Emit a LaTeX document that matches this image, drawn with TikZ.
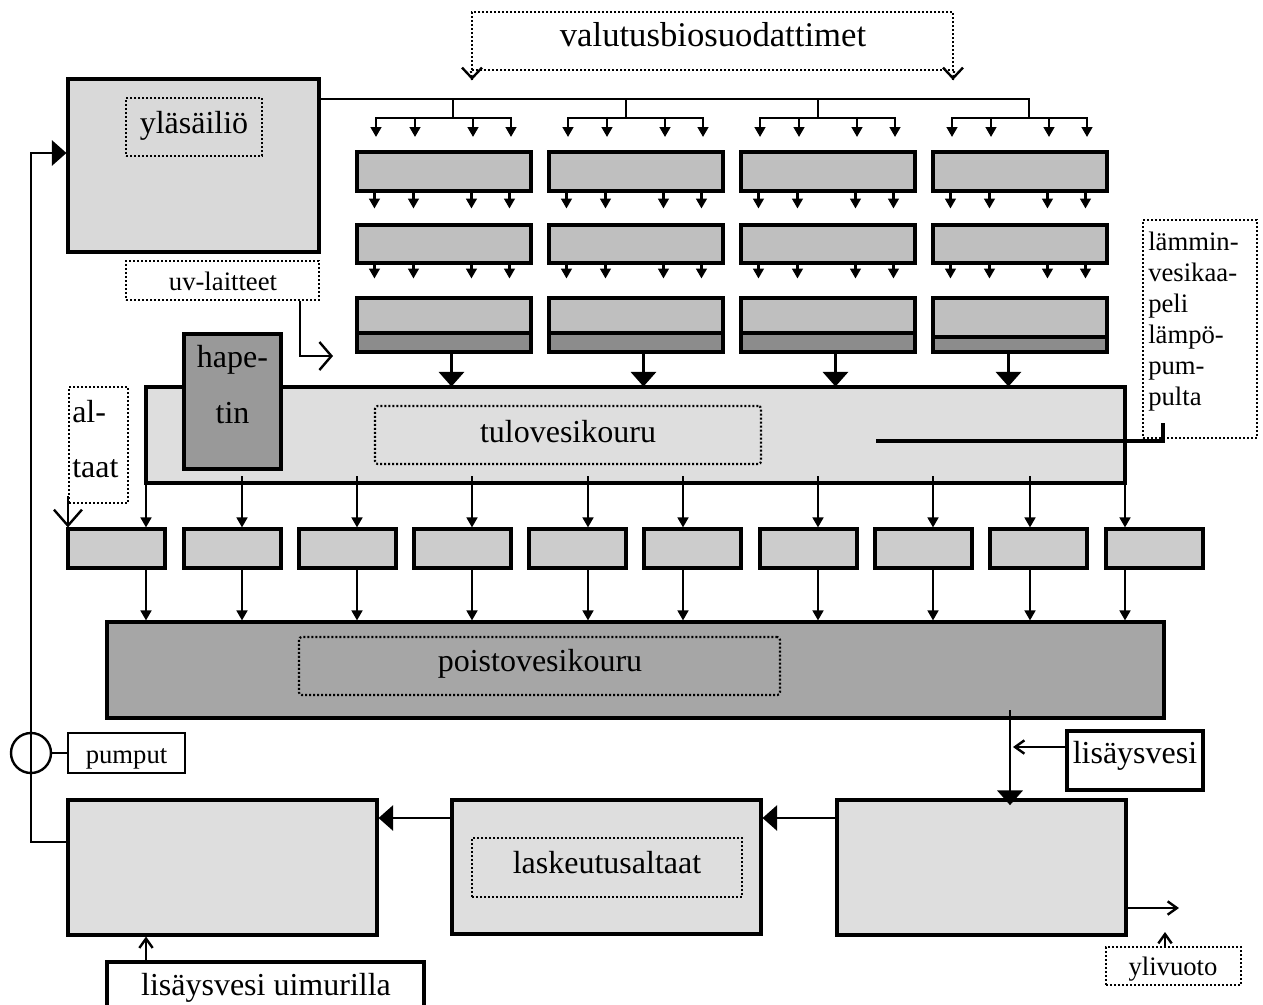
\documentclass[tikz,border=0pt]{standalone}
\usepackage{fontspec}
\setmainfont{Liberation Serif}
\usetikzlibrary{arrows.meta,fit}
\definecolor{gA}{HTML}{D9D9D9}
\definecolor{gB}{HTML}{BFBFBF}
\definecolor{gC}{HTML}{8C8C8C}
\definecolor{gD}{HTML}{DEDEDE}
\definecolor{gE}{HTML}{999999}
\definecolor{gF}{HTML}{CCCCCC}
\definecolor{gG}{HTML}{A6A6A6}
\begin{document}
\begin{tikzpicture}[x=0.75pt,y=-0.75pt,
  box/.style={draw=black,line width=2.3pt,inner sep=0pt},
  dotbox/.style={draw=black,line width=1.6pt,dash pattern=on 1.4pt off 1.6pt,inner sep=0pt},
  ln/.style={draw=black,line width=1.8pt},
  sarr/.style={ln,-{Triangle[width=8pt,length=7.5pt]}},
  barr/.style={ln,-{Triangle[width=19pt,length=11pt]}},
  oarr/.style={ln,-{Straight Barb[width=10pt,length=7pt]}},
  hugeT/.style={font=\fontsize{26}{30}\selectfont,inner sep=0pt},
  bigt/.style={font=\fontsize{24}{28}\selectfont,inner sep=0pt},
  midt/.style={font=\fontsize{20}{23}\selectfont,inner sep=0pt},
]
\useasboundingbox (0,0) rectangle (1263,1004);

% ---------- upper tank ----------
\node[box,fill=gA,fit={(68,79)(319,252)}] (ylas) {};
\node[dotbox,fit={(126,98)(262,156)}] (ylasbox) {};
\node[bigt,anchor=base] (ylastxt) at (194,133) {yläsäiliö};

% ---------- valutusbiosuodattimet label ----------
\node[dotbox,fit={(472,12)(953,70)}] (valut) {};
\node[hugeT,anchor=base] (valuttxt) at (713,46) {valutusbiosuodattimet};
\coordinate (va1) at (472,80);
\coordinate (va2) at (953,80);
\draw[dotbox] (valut.south west) -- (va1);
\draw[dotbox] (valut.south east) -- (va2);
\draw[ln,-{Straight Barb[width=15pt,length=8pt]}] ([yshift=1pt]va1) -- (va1);
\draw[ln,-{Straight Barb[width=15pt,length=8pt]}] ([yshift=1pt]va2) -- (va2);

% ---------- filters ----------
\foreach \c/\x/\d in {1/357/333,2/549/333,3/741/333,4/933/337} {
  \node[box,fill=gB,fit={(\x,152)(\x+174,191)}] (fa\c) {};
  \node[box,fill=gB,fit={(\x,225)(\x+174,263)}] (fb\c) {};
  \node[box,fill=gB,fit={(\x,298)(\x+174,\d)}] (fc\c) {};
  \node[box,fill=gC,fit={(\x,\d)(\x+174,352)}] (fd\c) {};
}

% distribution pipe
\coordinate (d99) at (0,99);
\draw[ln] (ylas.east |- d99) -- (1029,99) -- (1029,118);
\foreach \x/\b in {357/453,549/626,741/818,933/1029} {
  \draw[ln] (\b,99) -- (\b,118);
  \draw[ln,line cap=rect] (\x+19,118) -- (\x+154,118);
  \foreach \o in {19,58,116,154} {
    \draw[sarr] (\x+\o,118) -- (\x+\o,137);
  }
}
\foreach \c in {1,2,3,4} {
  \foreach \o in {19,58,116,154} {
    \draw[sarr] ([xshift=\o*0.75pt]fa\c.south west) -- ++(0,16);
    \draw[sarr] ([xshift=\o*0.75pt]fb\c.south west) -- ++(0,14);
  }
}

% ---------- tulovesikouru ----------
\node[box,fill=gD,fit={(146,387)(1125,483)}] (tulo) {};
\node[dotbox,rounded corners=2pt,fit={(375,406)(761,464)}] (tulobox) {};
\node[bigt,anchor=base] (tulotxt) at (568,442) {tulovesikouru};
\foreach \c/\o in {1/96,2/96,3/96,4/77} {
  \draw[barr] ([xshift=\o*0.75pt]fd\c.south west) -- ++(0,33);
}

% hapetin
\node[box,fill=gE,fit={(184,334)(281,469)}] (hap) {};
\node[bigt,anchor=base] (hap1) at (232.5,367) {hape-};
\node[bigt,anchor=base] (hap2) at (232.5,423) {tin};

% heating cable label
\node[dotbox,fit={(1143,220)(1257,438)}] (lam) {};
\foreach \t/\y/\i in {lämmin-/250/1,vesikaa-/281/2,peli/312/3,lämpö-/343/4,pum-/374/5,pulta/405/6} {
  \node[midt,anchor=base west] (lam\i) at (1148,\y) {\t};
}
\coordinate (cab1) at (876,441);
\coordinate (cab2) at (1163,441);
\coordinate (cab3) at (1163,423);
\draw[line width=3pt] (cab1) -- (cab2) -- (cab3);

% uv-laitteet
\node[dotbox,fit={(126,261)(319,300)}] (uv) {};
\node[midt,anchor=base] (uvtxt) at (223,290) {uv-laitteet};
\coordinate (uvx) at (300,356);
\coordinate (uvend) at (333,356);
\draw[ln,-{Straight Barb[width=21pt,length=9pt]}] (uvx |- uv.south) -- (uvx) -- (uvend);

% ---------- small tanks ----------
\foreach \i/\x in {1/68,2/184,3/299,4/414,5/529,6/644,7/760,8/875,9/990,10/1106} {
  \node[box,fill=gF,fit={(\x,529)(\x+97,568)}] (s\i) {};
}

% altaat
\node[dotbox,fit={(69,387)(128,503)}] (alt) {};
\node[bigt,anchor=base west] (alt1) at (72,422) {al-};
\node[bigt,anchor=base west] (alt2) at (72,477) {taat};
\draw[ln,-{Straight Barb[width=21pt,length=12pt]}] ([yshift=6pt]alt.south west) -- (alt.south west |- s1.north);

% ---------- poistovesikouru ----------
\node[box,fill=gG,fit={(107,622)(1164,718)}] (poisto) {};
\node[dotbox,rounded corners=2pt,fit={(299,637)(780,695)}] (poistobox) {};
\node[bigt,anchor=base] (poistotxt) at (540,671) {poistovesikouru};

\foreach \i/\x in {1/146,2/242,3/357,4/472,5/588,6/683,7/818,8/933,9/1030,10/1125} {
  \coordinate (ta\i) at (\x,476);
  \draw[sarr] (ta\i) -- (ta\i |- s\i.north);
  \draw[sarr] (ta\i |- s\i.south) -- (ta\i |- poisto.north);
}

% ---------- bottom tanks ----------
\node[box,fill=gD,fit={(68,800)(377,935)}] (bl) {};
\node[box,fill=gD,fit={(452,800)(761,934)}] (lask) {};
\node[dotbox,fit={(472,838)(742,897)}] (laskbox) {};
\node[bigt,anchor=base] (lasktxt) at (607,873) {laskeutusaltaat};
\node[box,fill=gD,fit={(837,800)(1126,935)}] (rb) {};

\coordinate (h818) at (0,818);
\draw[barr] (lask.west |- h818) -- (bl.east |- h818);
\draw[barr] (rb.west |- h818) -- (lask.east |- h818);

\coordinate (pd) at (1010,710);
\draw[barr,shorten >=-5pt] (pd) -- (pd |- rb.north);

% lisäysvesi
\node[box,fit={(1067,731)(1203,790)}] (lis) {};
\node[bigt,anchor=base] (listxt) at (1135,763) {lisäysvesi};
\coordinate (l747) at (0,747);
\coordinate (lisend) at (1013,747);
\draw[oarr] (lis.west |- l747) -- (lisend);

% overflow
\coordinate (ov) at (0,908);
\coordinate (ovend) at (1179,908);
\draw[oarr] (rb.east |- ov) -- (ovend);
\node[dotbox,fit={(1106,947)(1241,985)}] (ylv) {};
\node[midt,anchor=base] (ylvtxt) at (1173,975) {ylivuoto};
\coordinate (yv) at (1165,932);
\draw[oarr] (yv |- ylv.north) -- (yv);

% lisäysvesi uimurilla
\node[box,fit={(107,962)(424,1014)}] (uim) {};
\node[bigt,anchor=base] (uimtxt) at (266,995) {lisäysvesi uimurilla};
\coordinate (ux) at (146,0);
\draw[oarr] (ux |- uim.north) -- (ux |- bl.south);

% ---------- pump loop ----------
\node[box,line width=1.8pt,fit={(68,733)(185,773)}] (pumput) {};
\node[midt,anchor=base] (pumptxt) at (126.5,763) {pumput};
\node[circle,draw=black,line width=1.8pt,minimum size=30pt,inner sep=0pt] (pump) at (31,753) {};
\draw[ln] (pump.east) -- (pump.east -| pumput.west);
\coordinate (lpb) at (31,842);
\coordinate (lpt) at (31,153);
\draw[barr] (lpb -| bl.west) -- (lpb) -- (lpt) -- (lpt -| ylas.west);

\end{tikzpicture}
\end{document}
